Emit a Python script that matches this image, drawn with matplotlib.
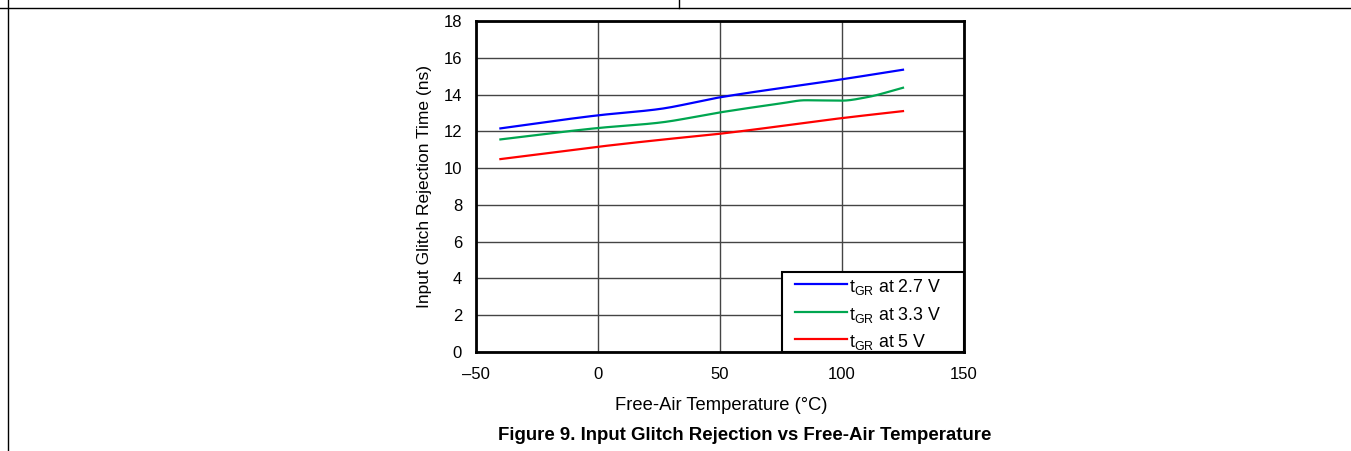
import matplotlib
matplotlib.use("Agg")
import matplotlib.pyplot as plt
from matplotlib.lines import Line2D
from matplotlib.patches import Rectangle
import numpy as np

plt.rcParams['font.family'] = ['Liberation Sans', 'DejaVu Sans']
plt.rcParams['mathtext.fontset'] = 'custom'
plt.rcParams['mathtext.rm'] = 'Liberation Sans'

temp_27 = [-40, 0, 25, 50, 100, 125]
val_27 = [12.16, 12.87, 13.21, 13.85, 14.83, 15.35]

temp_33 = [-40, 0, 25, 50, 75, 85, 100, 110, 125]
val_33 = [11.56, 12.18, 12.47, 13.03, 13.52, 13.69, 13.67, 13.85, 14.37]

temp_5 = [-40, 0, 25, 50, 100, 125]
val_5 = [10.49, 11.16, 11.53, 11.87, 12.72, 13.10]

labels = ['2.7 V', '3.3 V', '5 V']
colors = ['#0000ff', '#00a650', '#ff0000']

xticks = [-50, 0, 50, 100, 150]
xticklabels = ['\u201350', '0', '50', '100', '150']
yticks = list(range(0, 19, 2))

fig = plt.figure(figsize=(13.51, 4.51), dpi=100)
W, H = 1351, 451
ax = fig.add_axes([476 / W, 1 - 352 / H, (964 - 476) / W, (352 - 21) / H])

def smooth(x, y):
    x = np.asarray(x, float); y = np.asarray(y, float)
    h = np.diff(x); d = np.diff(y) / h
    m = np.zeros_like(y)
    m[0] = d[0]; m[-1] = d[-1]
    for i in range(1, len(y) - 1):
        if d[i - 1] * d[i] <= 0:
            m[i] = 0
        else:
            m[i] = 2 / (1 / d[i - 1] + 1 / d[i])
    xs, ys = [], []
    for i in range(len(h)):
        t = np.linspace(0, 1, 30)
        h00 = 2 * t**3 - 3 * t**2 + 1
        h10 = t**3 - 2 * t**2 + t
        h01 = -2 * t**3 + 3 * t**2
        h11 = t**3 - t**2
        xs.append(x[i] + t * h[i])
        ys.append(h00 * y[i] + h10 * h[i] * m[i] + h01 * y[i + 1] + h11 * h[i] * m[i + 1])
    return np.concatenate(xs), np.concatenate(ys)

for (tx, vy), c in zip([(temp_27, val_27), (temp_33, val_33), (temp_5, val_5)], colors):
    sx, sy = smooth(tx, vy)
    ax.plot(sx, sy, color=c, lw=1.6, zorder=3)

ax.set_xlim(-50, 150)
ax.set_ylim(0, 18)
ax.set_xticks(xticks)
ax.set_xticklabels(xticklabels)
ax.set_yticks(yticks)
ax.tick_params(length=0, labelsize=12)
ax.tick_params(axis='y', pad=10)
ax.tick_params(axis='x', pad=11)
ax.grid(True, color='#444444', lw=1)
ax.set_axisbelow(True)
for s in ax.spines.values():
    s.set_linewidth(2)
    s.set_color('black')

def px(x, y):
    return (x / W, 1 - y / H)

fig.text(*px(721, 410), 'Free-Air Temperature (\u00b0C)', ha='center', va='baseline', fontsize=13.2)
fig.text(*px(425, 186), 'Input Glitch Rejection Time (ns)', ha='center', va='center',
         rotation=90, fontsize=12.5)
fig.text(*px(745, 440), 'Figure 9. Input Glitch Rejection vs Free-Air Temperature',
         ha='center', va='baseline', fontsize=13.4, fontweight='bold')

# legend (manual, axes coordinates)
def axf(x, y):
    return ((x - 476) / 488, (352 - y) / 331)

bx0, by0 = axf(782, 352)
bx1, by1 = axf(964, 272)
ax.add_patch(Rectangle((bx0, by0), bx1 - bx0, by1 - by0, transform=ax.transAxes,
                       facecolor='white', edgecolor='black', lw=1.5, zorder=5, clip_on=False))
row_y = [284.3, 312, 339.3]
for c, lab, ry in zip(colors, labels, row_y):
    lx0, ly = axf(795, ry)
    lx1, _ = axf(847, ry)
    ax.add_line(Line2D([lx0, lx1], [ly, ly], color=c, lw=1.6, transform=ax.transAxes,
                       zorder=6, clip_on=False))
    tx_, ty_ = axf(849, ry + 8)
    ax.text(tx_, ty_, r'$\mathregular{t_{GR}}$ at ' + lab, transform=ax.transAxes,
            ha='left', va='baseline', fontsize=12.8, zorder=6)

# page border lines
fig.add_artist(Line2D([0, 1], [1 - 7.5 / H, 1 - 7.5 / H], color='black', lw=1, transform=fig.transFigure))
fig.add_artist(Line2D([7.5 / W, 7.5 / W], [0, 1], color='black', lw=1, transform=fig.transFigure))
fig.add_artist(Line2D([678.5 / W, 678.5 / W], [1 - 7.5 / H, 1], color='black', lw=1, transform=fig.transFigure))

fig.savefig('out.png', dpi=100)
